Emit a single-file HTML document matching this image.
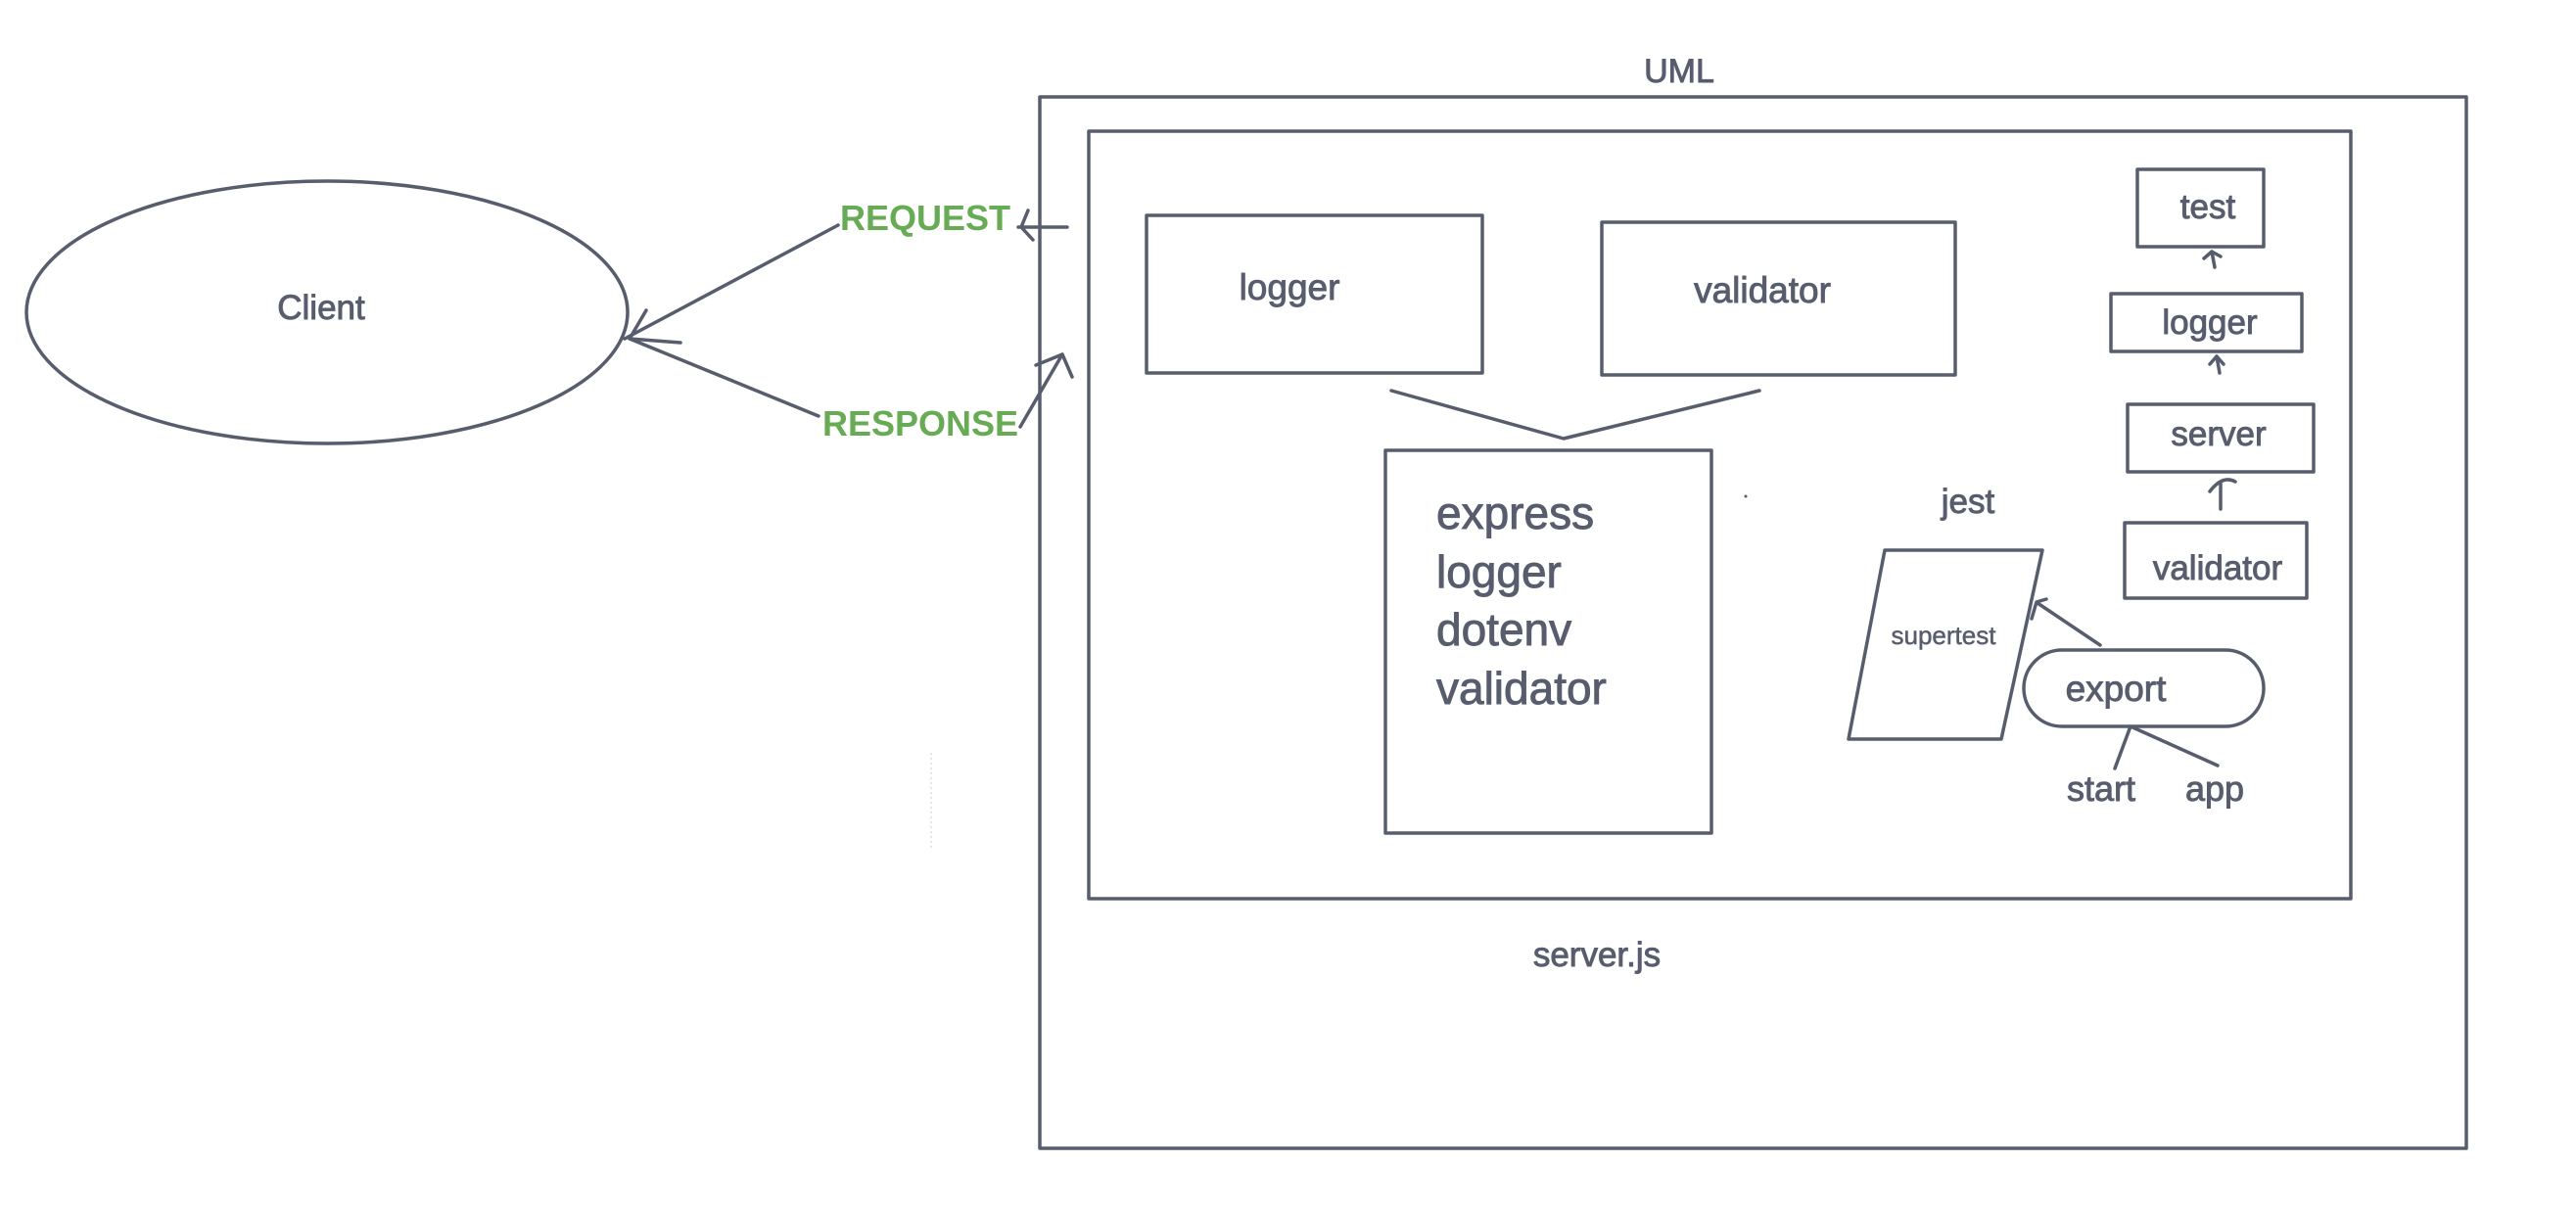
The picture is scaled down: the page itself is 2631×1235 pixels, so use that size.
<!DOCTYPE html>
<html><head><meta charset="utf-8"><style>
html,body{margin:0;padding:0;background:#fff;}
svg{display:block}
text{font-family:"Liberation Sans",sans-serif;fill:#585d6e;stroke:#585d6e;stroke-width:0.9px;}
</style></head><body>
<svg width="2631" height="1235" viewBox="0 0 2631 1235" xmlns="http://www.w3.org/2000/svg">
<g fill="none" stroke="#585d6e" stroke-width="3.5" stroke-linecap="round" stroke-linejoin="round">
<ellipse cx="334" cy="319" rx="307" ry="134"/>
<rect x="1062" y="99" width="1457" height="1074"/>
<rect x="1112" y="134" width="1289" height="784"/>
<rect x="1171" y="220" width="343" height="161"/>
<rect x="1636" y="227" width="361" height="156"/>
<polyline points="1421,399 1597,448 1797,399"/>
<rect x="1415" y="460" width="333" height="391"/>
<polygon points="1925,562 2086,562 2044,755 1888,755"/>
<rect x="2067" y="664" width="245" height="78" rx="39"/>
<line x1="2145" y1="659" x2="2081" y2="616"/>
<polyline points="2090,612 2080,615 2075,632"/>
<polyline points="2160,785 2176,742 2265,782"/>
<rect x="2183" y="173" width="129" height="79"/>
<rect x="2156" y="300" width="195" height="59"/>
<rect x="2173" y="413" width="190" height="69"/>
<rect x="2170" y="534" width="186" height="77"/>
<line x1="2262" y1="273" x2="2259" y2="257"/><polyline points="2251,264 2259,257 2268,262"/>
<line x1="2267" y1="381" x2="2264" y2="364"/><polyline points="2257,372 2264,364 2271,372"/>
<line x1="2268" y1="520" x2="2268" y2="494"/><path d="M2257,502 Q2270,485 2283,492"/>
<line x1="856" y1="230" x2="638" y2="346"/>
<line x1="836" y1="425" x2="643" y2="346"/>
<polyline points="660,317 643,346 695,350"/>
<line x1="1040" y1="232" x2="1090" y2="232"/><polyline points="1050,215 1043,232 1055,245"/>
<line x1="1042" y1="436" x2="1085" y2="362"/><polyline points="1058,373 1085,362 1095,385"/>
</g>
<circle cx="1783" cy="507" r="1.5" fill="#585d6e"/>
<line x1="951" y1="769" x2="951" y2="869" stroke="#ccc" stroke-width="1" stroke-dasharray="2,3"/>
<text x="1715" y="84" font-size="34" text-anchor="middle">UML</text>
<text x="328" y="326" font-size="35" text-anchor="middle">Client</text>
<text x="945" y="235" font-size="36" text-anchor="middle" font-weight="bold" style="fill:#67ac55;stroke:none">REQUEST</text>
<text x="940" y="445" font-size="36" text-anchor="middle" font-weight="bold" style="fill:#67ac55;stroke:none">RESPONSE</text>
<text x="1317" y="306" font-size="37" text-anchor="middle">logger</text>
<text x="1800" y="309" font-size="37" text-anchor="middle">validator</text>
<text x="1467" y="540" font-size="46">express</text>
<text x="1467" y="600" font-size="46">logger</text>
<text x="1467" y="659" font-size="46">dotenv</text>
<text x="1467" y="719" font-size="46">validator</text>
<text x="2010" y="524" font-size="35" text-anchor="middle">jest</text>
<text x="1985" y="658" font-size="26" text-anchor="middle" style="stroke-width:0.5px">supertest</text>
<text x="2161" y="716" font-size="37" text-anchor="middle">export</text>
<text x="2146" y="818" font-size="36" text-anchor="middle">start</text>
<text x="2262" y="818" font-size="36" text-anchor="middle">app</text>
<text x="2255" y="223" font-size="35" text-anchor="middle">test</text>
<text x="2257" y="341" font-size="35" text-anchor="middle">logger</text>
<text x="2266" y="455" font-size="35" text-anchor="middle">server</text>
<text x="2265" y="592" font-size="35" text-anchor="middle">validator</text>
<text x="1631" y="987" font-size="35" text-anchor="middle">server.js</text>
</svg>
</body></html>
